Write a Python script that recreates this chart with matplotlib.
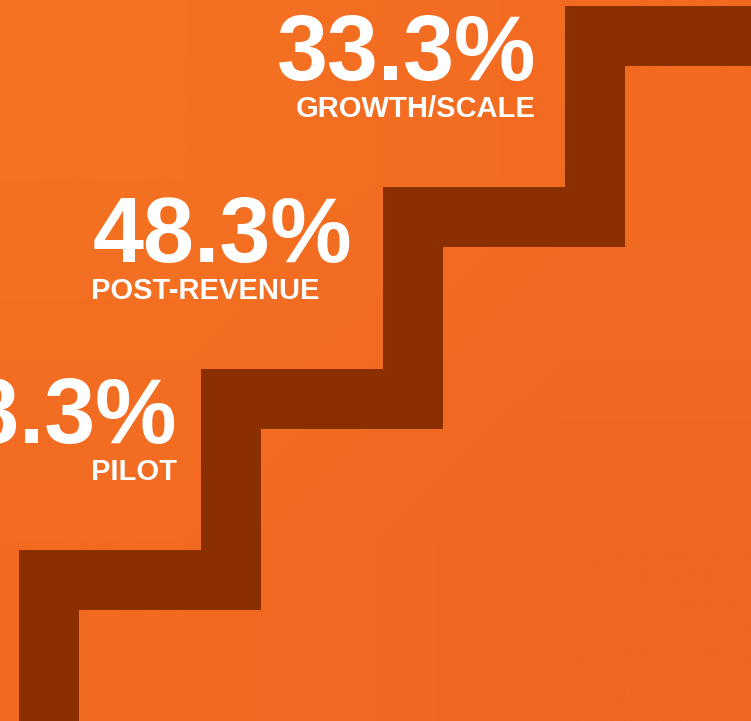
"""Staircase of funding stages with share of companies per stage -> out.png"""
import matplotlib
matplotlib.use("Agg")
import matplotlib.pyplot as plt
import numpy as np
from matplotlib.colors import to_rgb

# data
STAGES = ["PILOT", "POST-REVENUE", "GROWTH/SCALE"]
SHARES = [18.3, 48.3, 33.3]

W, H = 751, 721
ORANGE_TL = "#F47122"
ORANGE_BR = "#F06520"
BROWN = "#8B2E00"

# stair geometry in pixels (axes uses pixel coords, y downwards)
X0, Y0 = 19, 550          # outer corner of first tread
STEP_W, STEP_H = 182, 181.3
THICK = 60


def main():
    fig = plt.figure(figsize=(W / 100, H / 100), dpi=100)
    ax = fig.add_axes([0, 0, 1, 1])
    ax.set_xlim(0, W)
    ax.set_ylim(H, 0)
    ax.axis("off")

    # background gradient, top-left -> bottom-right
    c1, c2 = np.array(to_rgb(ORANGE_TL)), np.array(to_rgb(ORANGE_BR))
    t = np.array([[0.0, 0.5], [0.5, 1.0]])
    img = c1 + (c2 - c1) * t[..., None]
    ax.imshow(img, extent=[0, W, H, 0], interpolation="bilinear", aspect="auto", zorder=0)

    # staircase: one tread per stage plus the top landing
    n = len(STAGES) + 1
    half = THICK / 2
    xs, ys = [X0 + half], [H + 10]
    for i in range(n):
        cx = X0 + i * STEP_W + half
        cy = Y0 - i * STEP_H + half
        xs += [cx, cx]
        ys += [ys[-1], cy]
        xs.append(cx)
        ys.append(cy)
    xs.append(W + 40)
    ys.append(ys[-1])
    lw = THICK * 72 / 100
    ax.plot(xs, ys, color=BROWN, lw=lw, solid_joinstyle="miter",
            solid_capstyle="butt", zorder=2)

    # labels: (anchor x, alignment) per stage
    anchors = [(177, "right"), (93, "left"), (536, "right")]
    font = ["Liberation Sans", "DejaVu Sans"]
    for i, (stage, share) in enumerate(zip(STAGES, SHARES)):
        tread = Y0 - i * STEP_H
        x, ha = anchors[i]
        ax.text(x, tread - 107, f"{share:.1f}%", color="white", fontsize=66,
                fontweight="bold", family=font, ha=ha, va="baseline", zorder=3)
        ax.text(x + (0 if ha == "right" else -2), tread - 70, stage, color="white",
                fontsize=21.0, fontweight="bold", family=font, ha=ha, va="baseline",
                zorder=3)

    fig.savefig("out.png", dpi=100, facecolor=ORANGE_TL)


if __name__ == "__main__":
    main()
